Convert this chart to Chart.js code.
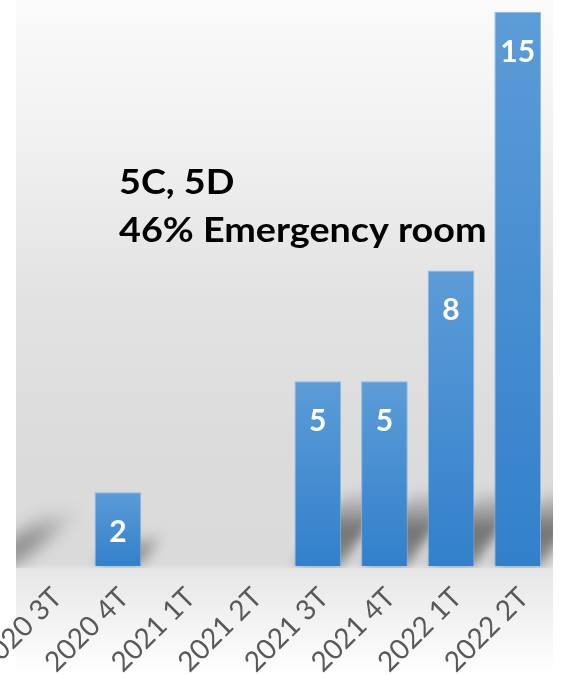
<!DOCTYPE html>
<html>
<head>
<meta charset="utf-8">
<script src="https://cdn.jsdelivr.net/npm/chart.js@4.4.0/dist/chart.umd.min.js"></script>
<style>
    html, body { margin: 0; padding: 0; background: #ffffff; overflow: hidden; }
    #wrap { position: relative; width: 568px; height: 675px; }
</style>
</head>
<body>
<div id="wrap"><canvas id="quarterChart" width="568" height="675"></canvas></div>
<script>
const quarters = ['2020 3T', '2020 4T', '2021 1T', '2021 2T', '2021 3T', '2021 4T', '2022 1T', '2022 2T'];
const cases = [0, 2, 0, 0, 5, 5, 8, 15];
const noteLines = ['5C, 5D', '46% Emergency room'];

// grey backdrop with a light floor under the bars
const backdrop = {
    id: 'backdrop',
    beforeDraw(chart) {
        const { ctx, chartArea, height } = chart;
        const left = chartArea.left - 2, right = chartArea.right + 2;
        const g = ctx.createLinearGradient(0, 0, 0, height);
        g.addColorStop(0, '#fbfbfb');
        g.addColorStop(0.22, '#f0f0f0');
        g.addColorStop(0.45, '#e2e2e2');
        g.addColorStop(0.65, '#dcdcdc');
        g.addColorStop(0.835, '#dadada');
        g.addColorStop(0.845, '#e7e7e7');
        g.addColorStop(1, '#ffffff');
        ctx.save();
        ctx.fillStyle = g;
        ctx.fillRect(left, 0, right - left, height);
        ctx.restore();
    }
};

// soft cast shadows at the foot of each bar
const barShadows = {
    id: 'barShadows',
    beforeDatasetsDraw(chart) {
        const { ctx, chartArea } = chart;
        const meta = chart.getDatasetMeta(0);
        const xs = chart.scales.x;
        ctx.save();
        ctx.beginPath();
        ctx.rect(chartArea.left - 2, 0, chartArea.width + 4, chartArea.bottom + 2);
        ctx.clip();
        const drawShadow = (cx, w, base, h, lean, alpha) => {
            const dx = h * lean;
            const g = ctx.createLinearGradient(0, base, 0, base - h);
            g.addColorStop(0, 'rgba(0,0,0,' + alpha * 0.7 + ')');
            g.addColorStop(0.45, 'rgba(0,0,0,' + alpha + ')');
            g.addColorStop(1, 'rgba(0,0,0,0)');
            ctx.fillStyle = g;
            ctx.beginPath();
            ctx.moveTo(cx - w / 2, base);
            ctx.lineTo(cx + w / 2, base);
            ctx.lineTo(cx + w / 2 + dx, base - h);
            ctx.lineTo(cx - w / 2 + dx, base - h);
            ctx.closePath();
            ctx.fill();
        };
        ctx.filter = 'blur(6px)';
        meta.data.forEach((bar, i) => {
            if (!cases[i]) return;
            const p = bar.getProps(['x', 'y', 'base', 'width'], true);
            const h = Math.min((p.base - p.y) * 0.45, 78);
            drawShadow(p.x, p.width, p.base, h, 0.7, 0.22 + h / 300);
        });
        // smear entering from the left edge
        ctx.filter = 'blur(8px)';
        const w0 = meta.data[0].getProps(['width'], true).width;
        const step = xs.width / quarters.length;
        drawShadow(xs.getPixelForValue(0) - step + 10, w0 * 0.8, chartArea.bottom + 2, 58, 1.2, 0.36);
        ctx.restore();
    }
};

// white value labels inside the bars and the note text
const annotations = {
    id: 'annotations',
    afterDatasetsDraw(chart) {
        const { ctx, chartArea } = chart;
        const meta = chart.getDatasetMeta(0);
        ctx.save();
        ctx.fillStyle = '#ffffff';
        ctx.font = 'bold 30px Lato';
        ctx.textAlign = 'center';
        ctx.textBaseline = 'middle';
        meta.data.forEach((bar, i) => {
            if (!cases[i]) return;
            ctx.fillText(String(cases[i]), bar.x, bar.y + 40);
        });

        ctx.fillStyle = '#000000';
        ctx.font = 'bold 34px Lato';
        ctx.textAlign = 'left';
        ctx.textBaseline = 'alphabetic';
        const x0 = chartArea.left + 101;
        noteLines.forEach((line, k) => {
            ctx.save();
            ctx.translate(x0, 194 + k * 48);
            ctx.scale(1.11, 1);
            ctx.fillText(line, 0, 0);
            ctx.restore();
        });
        ctx.restore();
    }
};

function barGradient(context) {
    const chart = context.chart;
    if (!chart.chartArea || context.raw === undefined) return '#4a8fd2';
    const ys = chart.scales.y;
    const top = ys.getPixelForValue(context.raw);
    const bottom = ys.getPixelForValue(0);
    if (bottom - top < 1) return '#4a8fd2';
    const g = chart.ctx.createLinearGradient(0, top, 0, bottom);
    g.addColorStop(0, '#5c9cd7');
    g.addColorStop(1, '#3280cb');
    return g;
}

document.addEventListener('DOMContentLoaded', function() {
    const ctx = document.getElementById('quarterChart').getContext('2d');

    new Chart(ctx, {
        type: 'bar',
        data: {
            labels: quarters,
            datasets: [{
                data: cases,
                backgroundColor: barGradient,
                borderColor: 'rgba(130, 180, 230, 0.9)',
                borderWidth: 1,
                categoryPercentage: 1,
                barPercentage: 0.7
            }]
        },
        options: {
            responsive: false,
            animation: false,
            layout: {
                padding: { left: 18, right: 17, top: 12, bottom: 0 }
            },
            scales: {
                x: {
                    grid: { display: false, drawTicks: false },
                    border: { display: false },
                    ticks: {
                        autoSkip: false,
                        maxRotation: 45,
                        minRotation: 45,
                        padding: 15,
                        labelOffset: 6,
                        color: '#595959',
                        font: { family: 'Lato', size: 28 }
                    },
                    afterFit: function(scale) {
                        scale.paddingLeft = 0;
                        scale.paddingRight = 0;
                        scale.height = 109;
                    }
                },
                y: {
                    display: false,
                    min: 0,
                    max: 15
                }
            },
            plugins: {
                legend: { display: false },
                tooltip: { enabled: false }
            }
        },
        plugins: [backdrop, barShadows, annotations]
    });
});
</script>
</body>
</html>
